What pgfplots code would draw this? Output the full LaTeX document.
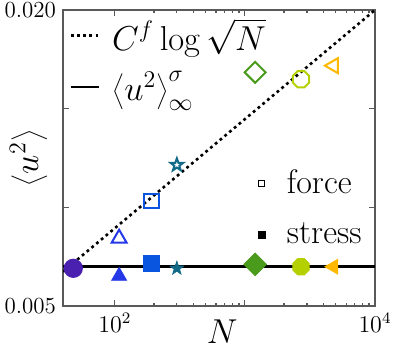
\documentclass[border=0pt]{standalone}
\usepackage{pgfplots}
\pgfplotsset{compat=1.18}
\usetikzlibrary{plotmarks}

% octagon and five-pointed star marks (open and filled)
\pgfdeclareplotmark{octagon}{%
  \pgfpathmoveto{\pgfpointpolar{22.5}{\pgfplotmarksize}}%
  \pgfpathlineto{\pgfpointpolar{67.5}{\pgfplotmarksize}}%
  \pgfpathlineto{\pgfpointpolar{112.5}{\pgfplotmarksize}}%
  \pgfpathlineto{\pgfpointpolar{157.5}{\pgfplotmarksize}}%
  \pgfpathlineto{\pgfpointpolar{202.5}{\pgfplotmarksize}}%
  \pgfpathlineto{\pgfpointpolar{247.5}{\pgfplotmarksize}}%
  \pgfpathlineto{\pgfpointpolar{292.5}{\pgfplotmarksize}}%
  \pgfpathlineto{\pgfpointpolar{337.5}{\pgfplotmarksize}}%
  \pgfpathclose\pgfusepathqstroke}
\pgfdeclareplotmark{octagon*}{%
  \pgfpathmoveto{\pgfpointpolar{22.5}{\pgfplotmarksize}}%
  \pgfpathlineto{\pgfpointpolar{67.5}{\pgfplotmarksize}}%
  \pgfpathlineto{\pgfpointpolar{112.5}{\pgfplotmarksize}}%
  \pgfpathlineto{\pgfpointpolar{157.5}{\pgfplotmarksize}}%
  \pgfpathlineto{\pgfpointpolar{202.5}{\pgfplotmarksize}}%
  \pgfpathlineto{\pgfpointpolar{247.5}{\pgfplotmarksize}}%
  \pgfpathlineto{\pgfpointpolar{292.5}{\pgfplotmarksize}}%
  \pgfpathlineto{\pgfpointpolar{337.5}{\pgfplotmarksize}}%
  \pgfpathclose\pgfusepathqfillstroke}
\def\starpath{%
  \pgfpathmoveto{\pgfpointpolar{90}{\pgfplotmarksize}}%
  \pgfpathlineto{\pgfpointpolar{126}{0.4\pgfplotmarksize}}%
  \pgfpathlineto{\pgfpointpolar{162}{\pgfplotmarksize}}%
  \pgfpathlineto{\pgfpointpolar{198}{0.4\pgfplotmarksize}}%
  \pgfpathlineto{\pgfpointpolar{234}{\pgfplotmarksize}}%
  \pgfpathlineto{\pgfpointpolar{270}{0.4\pgfplotmarksize}}%
  \pgfpathlineto{\pgfpointpolar{306}{\pgfplotmarksize}}%
  \pgfpathlineto{\pgfpointpolar{342}{0.4\pgfplotmarksize}}%
  \pgfpathlineto{\pgfpointpolar{18}{\pgfplotmarksize}}%
  \pgfpathlineto{\pgfpointpolar{54}{0.4\pgfplotmarksize}}%
  \pgfpathclose}
\pgfdeclareplotmark{fstar}{\starpath\pgfusepathqstroke}
\pgfdeclareplotmark{fstar*}{\starpath\pgfusepathqfillstroke}

\definecolor{cA}{HTML}{4A20B0}
\definecolor{cB}{HTML}{2438E8}
\definecolor{cC}{HTML}{0A55E0}
\definecolor{cD}{HTML}{106A88}
\definecolor{cE}{HTML}{4A9A1C}
\definecolor{cF}{HTML}{B4D000}
\definecolor{cG}{HTML}{FFB800}

\begin{document}
\begin{tikzpicture}
\useasboundingbox (-31.5pt,-23pt) rectangle (166pt,153pt);
\begin{axis}[
    at={(0,0)}, anchor=south west,
    scale only axis, width=156pt, height=148pt,
    xmode=log, xmin=40, xmax=10000,
    ymin=0.005, ymax=0.020,
    xtick={100,1000,10000}, xticklabels={$10^2$,,$10^4$},
    ytick={0.005,0.010,0.015,0.020}, yticklabels={0.005,,,0.020},
    scaled y ticks=false,
    tick label style={font=\fontsize{11.5}{13}\selectfont},
    major tick length=3pt, minor tick length=1.6pt,
    axis line style={black!65, line width=0.7pt},
    tick style={black!65, line width=0.6pt},
    xlabel={$N$}, ylabel={$\left\langle u^2\right\rangle$},
    every axis x label/.style={at={(axis description cs:0.51,-0.088)}, anchor=center,
      font=\fontsize{17}{20}\selectfont},
    every axis y label/.style={at={(axis description cs:-0.11,0.5)}, rotate=90, anchor=center,
      font=\fontsize{17}{20}\selectfont},
    legend style={draw=none, fill=none, at={(axis description cs:0.0,1.0)}, anchor=north west,
      font=\fontsize{16.5}{19}\selectfont, row sep=5pt, column sep=4pt},
    legend cell align=left,
    legend image code/.code={\draw[#1] (0pt,0pt) -- (14pt,0pt);},
    clip=true,
]
% force (open markers)
\addplot[only marks, mark=*, mark size=4.3pt, color=cA, mark options={fill=cA!80!white, line width=1pt}, forget plot] coordinates {(48,0.00691)};
\addplot[only marks, mark=triangle, mark size=4.3pt, color=cB, mark options={line width=1pt}, forget plot] coordinates {(108,0.00843)};
\addplot[only marks, mark=square, mark size=3.7pt, color=cC, mark options={line width=1pt}, forget plot] coordinates {(192,0.01032)};
\addplot[only marks, mark=fstar, mark size=3.3pt, color=cD, mark options={line width=1pt}, forget plot] coordinates {(300,0.01215)};
\addplot[only marks, mark=square, mark size=3.7pt, color=cE, mark options={rotate=45, line width=1pt}, forget plot] coordinates {(1200,0.01684)};
\addplot[only marks, mark=octagon, mark size=4.4pt, color=cF, mark options={line width=1pt}, forget plot] coordinates {(2700,0.01649)};
\addplot[only marks, mark=triangle, mark size=4.3pt, color=cG, mark options={rotate=90, line width=1pt}, forget plot] coordinates {(4800,0.01718)};
% stress (filled markers)
\addplot[only marks, mark=*, mark size=4.2pt, color=cA, forget plot] coordinates {(48,0.00691)};
\addplot[only marks, mark=triangle*, mark size=4.3pt, color=cB, forget plot] coordinates {(108,0.00652)};
\addplot[only marks, mark=square*, mark size=4pt, color=cC, forget plot] coordinates {(192,0.00716)};
\addplot[only marks, mark=fstar*, mark size=3.5pt, color=cD, forget plot] coordinates {(300,0.00691)};
\addplot[only marks, mark=square*, mark size=4pt, color=cE, mark options={rotate=45}, forget plot] coordinates {(1200,0.00711)};
\addplot[only marks, mark=octagon*, mark size=4.4pt, color=cF, forget plot] coordinates {(2700,0.00699)};
\addplot[only marks, mark=triangle*, mark size=4.3pt, color=cG, mark options={rotate=90}, forget plot] coordinates {(4800,0.00699)};
% lines
\addplot[black, line width=1.3pt, dash pattern=on 1.4pt off 1.7pt, mark=none] coordinates {(40,0.00674) (10000,0.0200)};
\addlegendentry{$C^f\log\sqrt{N}$}
\addplot[black, line width=1.4pt, mark=none] coordinates {(40,0.00699) (10000,0.00699)};
\addlegendentry{$\left\langle u^2\right\rangle^\sigma_\infty$}
\end{axis}
\begin{axis}[
    at={(0,0)}, anchor=south west,
    scale only axis, width=156pt, height=148pt,
    hide axis, xmin=0, xmax=1, ymin=0, ymax=1,
    legend style={draw=none, fill=none, at={(axis description cs:0.99,0.33)}, anchor=east,
      font=\fontsize{17}{20}\selectfont, row sep=9pt, column sep=9pt},
    legend cell align=left,
]
\addlegendimage{only marks, mark=square, mark size=1.6pt, black, mark options={line width=0.5pt}}
\addlegendentry{force}
\addlegendimage{only marks, mark=square*, mark size=1.6pt, black}
\addlegendentry{stress}
\end{axis}
\end{tikzpicture}
\end{document}
